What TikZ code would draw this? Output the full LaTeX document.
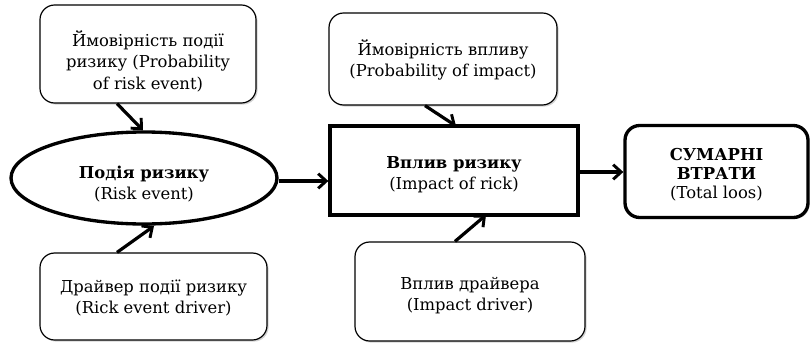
\documentclass[tikz,border=0pt]{standalone}
\usepackage{fontspec}
\setmainfont{DejaVu Serif}
\usetikzlibrary{arrows.meta,shapes.geometric,shadows}
\newcommand{\dnbox}[2]{\raisebox{-#1}[\height][\depth]{\begin{tabular}{@{}c@{}}#2\end{tabular}}}
\begin{document}
\begin{tikzpicture}[x=0.75pt,y=-0.75pt,
  txt/.style={font=\fontsize{12.3}{16}\selectfont, align=center},
  thinbox/.style={txt, draw, line width=0.9pt, rounded corners=11pt, fill=white,
    drop shadow={opacity=0.35, shadow xshift=1.2pt, shadow yshift=-1.2pt}, inner sep=0pt},
  thickbox/.style={txt, draw, line width=2.5pt, fill=white, inner sep=0pt},
  conn/.style={-{Straight Barb[length=6pt,width=11pt,line width=2.2pt]}, line width=2.4pt}]
\useasboundingbox (0,0) rectangle (810,343);
% nodes
\node[thinbox, minimum width=162pt, minimum height=73.5pt] (pre) at (148,54)
  {\dnbox{7pt}{Ймовірність події\\ризику (Probability\\of risk event)}};
\node[txt, draw, ellipse, line width=2.5pt, fill=white, minimum width=199.5pt, minimum height=69pt, inner sep=0pt,
  drop shadow={opacity=0.25, shadow xshift=1pt, shadow yshift=-1pt}] (ev) at (144,178)
  {\dnbox{5pt}{\textbf{Подія ризику}\\(Risk event)}};
\node[thinbox, minimum width=170.25pt, minimum height=65.25pt] (red) at (153.5,296.5)
  {\dnbox{1.5pt}{Драйвер події ризику\\(Rick event driver)}};
\node[thinbox, minimum width=171pt, minimum height=69pt] (pim) at (443,59)
  {\dnbox{2pt}{Ймовірність впливу\\(Probability of impact)}};
\node[thickbox, minimum width=186pt, minimum height=66.75pt, drop shadow={opacity=0.25, shadow xshift=1pt, shadow yshift=-1pt}] (imp) at (454,170.5)
  {\dnbox{3pt}{\textbf{Вплив ризику}\\(Impact of rick)}};
\node[thinbox, minimum width=172.5pt, minimum height=74.25pt] (idr) at (470,291.5)
  {\dnbox{3pt}{Вплив драйвера\\(Impact driver)}};
\node[draw, align=center, font=\fontsize{12.3}{14.5}\selectfont, line width=2.5pt, rounded corners=11pt, fill=white, minimum width=137.25pt, minimum height=69pt, inner sep=0pt,
  drop shadow={opacity=0.3, shadow xshift=1.2pt, shadow yshift=-1.2pt}] (tot) at (716.5,171.5)
  {\dnbox{3pt}{\textbf{СУМАРНІ}\\\textbf{ВТРАТИ}\\(Total loos)}};
% connectors
\draw[conn] (pre.south -| 117,0) -- (ev.north -| 143,0);
\draw[conn] (red.north -| 117,0) -- (154,226);
\draw[conn] (ev.east |- 0,181) -- (imp.west |- 0,181);
\draw[conn] (pim.south -| 425,0) -- (456,126);
\draw[conn] (idr.north -| 455,0) -- (486,215);
\draw[conn] (imp.east |- 0,172) -- (tot.west |- 0,172);
\end{tikzpicture}
\end{document}
